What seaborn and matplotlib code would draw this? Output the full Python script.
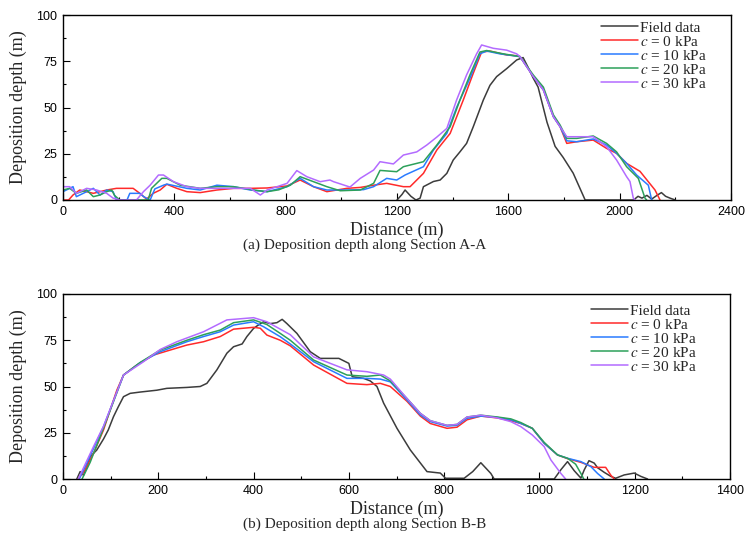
import numpy as np
import pandas as pd
import matplotlib
matplotlib.use("Agg")
import matplotlib.pyplot as plt
from matplotlib.ticker import MultipleLocator
import seaborn as sns

# ---------------- data: Section A-A ----------------
field_a_x = [1200, 1218, 1229, 1250, 1268, 1283, 1295, 1331, 1355, 1379, 1402, 1426, 1450, 1474,
             1510, 1534, 1558, 1594, 1630, 1653, 1670, 1689, 1707, 1739, 1768, 1797, 1833, 1876,
             1900, 2050, 2066, 2080, 2098, 2115, 2134, 2150, 2165, 2181, 2200]
field_a_y = [0, 3, 5.4, 2, 0, 1, 7.2, 10, 10.8, 14.4, 21.6, 26, 30.6, 39.6,
             54, 62, 66.7, 71, 75.7, 77, 72, 66, 61, 42, 29, 23, 14.5, 0,
             0, 0, 2, 1, 2.5, 0.5, 2.5, 4, 2, 1, 0]

c0_a_x = [0, 20, 36, 60, 109, 157, 192, 252, 276, 300, 324, 349, 373, 409, 445, 493, 553, 613,
          673, 733, 805, 852, 900, 948, 1020, 1068, 1116, 1163, 1223, 1247, 1295, 1343, 1391,
          1438, 1474, 1504, 1534, 1594, 1630, 1642, 1690, 1726, 1762, 1786, 1810, 1846, 1905,
          1953, 1989, 2025, 2073, 2097, 2127, 2145]
c0_a_y = [0, 0, 2.7, 5.4, 3.6, 5.4, 6.3, 6.3, 3.6, 0.5, 3.6, 5.4, 8.5, 6.3, 4.5, 4, 5.4, 6.3,
          6.3, 6.5, 7.6, 10.8, 7.2, 4.5, 6.3, 6.8, 8, 9, 7.2, 7.2, 14.4, 27, 36,
          54, 68.5, 80, 80.5, 78.4, 78, 77.5, 66.7, 59.5, 45, 39.6, 30.6, 31.5, 32.4,
          27.9, 25.2, 19.8, 15.5, 11, 5.4, 0]

c10_a_x = [0, 36, 48, 85, 109, 133, 157, 180, 192, 230, 240, 276, 290, 313, 330, 361, 373, 445,
           493, 553, 613, 673, 733, 805, 852, 900, 948, 1020, 1080, 1116, 1163, 1199, 1229, 1295,
           1331, 1379, 1414, 1462, 1498, 1522, 1570, 1642, 1690, 1726, 1762, 1786, 1810, 1846,
           1905, 1953, 1989, 2025, 2061, 2103, 2115]
c10_a_y = [4.5, 7.2, 1.8, 4.5, 6.3, 2.7, 5.4, 4.5, 0, 0, 3.6, 3.6, 1.8, 0, 6, 8, 8.6, 6.3,
           5.4, 8, 7.2, 5.4, 4.5, 7.2, 11.7, 7.2, 5.4, 5.4, 5.6, 7.2, 11.7, 10.8, 13.5, 18,
           27, 36, 50, 65.8, 79, 80.5, 79, 77.5, 66.7, 59.5, 45, 39.6, 32, 31.5,
           33, 29.7, 25.2, 19.8, 13.5, 8, 0]

c20_a_x = [0, 24, 48, 85, 109, 133, 157, 175, 185, 204, 306, 318, 355, 373, 421, 493, 553, 613,
           685, 733, 775, 817, 852, 900, 948, 996, 1068, 1116, 1139, 1199, 1223, 1295, 1343,
           1391, 1426, 1462, 1498, 1522, 1582, 1642, 1690, 1726, 1762, 1786, 1810, 1846, 1905,
           1953, 1989, 2025, 2067, 2091, 2097]
c20_a_y = [5.4, 6.3, 3.6, 5.4, 1.8, 2.7, 4.5, 5.4, 2.5, 0, 0, 6.3, 11.7, 11.7, 8, 6.3, 7.2, 7.2,
           5.4, 4.5, 5.5, 8, 12.6, 9.9, 7.2, 5, 5.4, 9, 16, 15.3, 18, 20.7, 29.7,
           39.6, 54, 67.6, 80, 80.8, 79, 77.5, 67.5, 61, 46, 40.5, 33.3, 33.3, 34.6,
           30.6, 26, 18, 11.7, 1, 0]

c30_a_x = [0, 24, 48, 85, 121, 157, 180, 204, 264, 289, 313, 343, 361, 397, 445, 493, 613, 673,
           709, 733, 805, 840, 876, 924, 959, 972, 1031, 1068, 1116, 1139, 1187, 1223, 1271,
           1307, 1343, 1379, 1414, 1450, 1486, 1504, 1546, 1594, 1630, 1642, 1690, 1726, 1762,
           1786, 1810, 1846, 1905, 1953, 1989, 2025, 2037, 2049, 2055]
c30_a_y = [7.2, 7.2, 3.6, 6.3, 5.4, 3.6, 1, 0, 0, 4.5, 8, 13.5, 13.5, 9.9, 7.2, 6.3, 6.3, 6.3,
           2.7, 5.4, 9, 15.9, 12.6, 9.9, 10.8, 9.9, 7, 11.7, 16.2, 20.7, 19.5, 24.3, 26,
           29.7, 34, 38.7, 54, 67.6, 79, 83.8, 82, 81, 79, 77.5, 66.7, 59.5, 45,
           39.6, 34.2, 34.2, 34.2, 28.8, 21.6, 12.6, 10, 1, 0]

# ---------------- data: Section B-B ----------------
field_b_x = [29, 36, 43, 50, 57, 71, 85, 95, 106, 116, 127, 141, 162, 197, 218, 260, 288, 302,
             323, 344, 358, 376, 386, 400, 407, 421, 435, 449, 460, 470, 491, 519, 540, 579, 600,
             607, 631, 645, 659, 673, 701, 729, 764, 792, 803, 842, 860, 877, 898, 905, 1031,
             1045, 1059, 1073, 1087, 1094, 1104, 1115, 1122, 1136, 1150, 1160, 1178, 1199, 1213, 1227]
field_b_y = [0, 4, 2, 6.7, 12, 15.7, 21.6, 26.5, 33.7, 39, 44.5, 46.3, 47, 48, 49, 49.5, 50, 51.7,
             59, 68, 71.5, 73, 77, 81.4, 82.7, 85, 84, 84.5, 86.3, 84, 78.7, 68.8, 65.2, 65.2, 62.5,
             55.3, 54.4, 53, 50, 41, 27.4, 15.7, 4, 3.2, 0.4, 0.4, 4, 8.8, 3, 0, 0,
             5, 9.4, 4.5, 0.5, 4.9, 9.9, 8.6, 6.1, 3.6, 1.4, 0.4, 2.2, 3.2, 1.4, 0]

c0_b_x = [32, 46, 64, 85, 99, 113, 127, 155, 190, 225, 260, 295, 330, 358, 400, 414, 428, 456,
          477, 526, 596, 638, 666, 687, 722, 750, 771, 806, 827, 848, 877, 912, 940, 961, 985,
          1010, 1038, 1059, 1087, 1115, 1139, 1150, 1157]
c0_b_y = [0, 4.9, 13.9, 26.5, 37.3, 48, 56.2, 61.6, 67, 69.7, 72.4, 74.2, 77, 81, 82, 81.5, 77.8, 75,
          72, 61.6, 51.7, 51, 51.7, 50, 42, 34, 30, 27.4, 28, 32, 34, 33, 31.5, 30, 27.4,
          19.3, 13, 11, 9, 6.3, 6.3, 2, 0]

c10_b_x = [34, 50, 85, 127, 162, 204, 260, 295, 330, 358, 400, 421, 456, 477, 526, 596, 638, 666,
           687, 722, 750, 771, 806, 827, 848, 877, 912, 940, 961, 985, 1010, 1038, 1059, 1087,
           1108, 1122, 1136]
c10_b_y = [0, 8.5, 28.3, 56.2, 62.9, 68.8, 74.2, 77, 79.6, 83.2, 85, 82.3, 76.9, 73, 63.4, 54.4, 54.4, 54,
           52.5, 42.7, 34.6, 31, 28.6, 29, 32.8, 34, 33.3, 32, 30, 27.4, 19.3, 13, 11.2, 9.4,
           6.7, 3, 0]

c20_b_x = [40, 57, 85, 127, 162, 204, 260, 295, 330, 358, 400, 428, 456, 477, 526, 596, 638, 666,
           687, 722, 750, 771, 806, 827, 848, 877, 912, 940, 961, 985, 1010, 1038, 1059, 1076,
           1087, 1093]
c20_b_y = [0, 9, 27.5, 56.2, 63, 69.7, 75, 78, 80.5, 84.5, 86, 83.5, 78.7, 75, 64.3, 56.2, 55.5, 56.2,
           53, 43.5, 35.5, 31.5, 29, 29.5, 33.5, 34.5, 33.5, 32.5, 30.5, 27.4, 19.8, 13, 11.2, 8,
           3, 0]

c30_b_x = [32, 64, 85, 127, 169, 204, 239, 295, 344, 400, 428, 456, 477, 526, 596, 638, 673, 687,
           722, 750, 771, 806, 827, 848, 877, 912, 940, 961, 985, 1010, 1024, 1045, 1055]
c30_b_y = [0, 17.5, 28.5, 56.2, 63.4, 70, 74.2, 79.6, 86, 87.2, 85, 81, 78, 66, 59, 58, 56.2, 54,
           43.5, 35.5, 31.5, 29, 29.5, 33.5, 34.5, 33, 31, 28.3, 23.8, 17.5, 10.3, 3, 0]

series_labels = ["Field data", r"$c$ = 0 kPa", r"$c$ = 10 kPa", r"$c$ = 20 kPa", r"$c$ = 30 kPa"]
series_colors = ["#3c3c3c", "#ff2a2a", "#2a7bff", "#2ca05a", "#b36bff"]

captions = ["(a) Deposition depth along Section A-A", "(b) Deposition depth along Section B-B"]
xlabel = "Distance (m)"
ylabel = "Deposition depth (m)"

# ---------------- styling ----------------
sns.set_style("ticks")
plt.rcParams["font.family"] = ["Liberation Sans", "DejaVu Sans"]
plt.rcParams["mathtext.fontset"] = "stix"
SERIF = ["Liberation Serif", "DejaVu Serif"]

W, H = 745, 554
fig = plt.figure(figsize=(W / 100, H / 100), dpi=100)


def box(l, t, r, b):
    return [l / W, 1 - b / H, (r - l) / W, (b - t) / H]


panels = [
    dict(rect=box(63, 15, 731, 200), xmax=2400, xmaj=400, xmin=200,
         data=[(field_a_x, field_a_y), (c0_a_x, c0_a_y), (c10_a_x, c10_a_y),
               (c20_a_x, c20_a_y), (c30_a_x, c30_a_y)],
         leg=(601, 21), cap_y=245, cap=captions[0]),
    dict(rect=box(63, 294, 730, 479), xmax=1400, xmaj=200, xmin=100,
         data=[(field_b_x, field_b_y), (c0_b_x, c0_b_y), (c10_b_x, c10_b_y),
               (c20_b_x, c20_b_y), (c30_b_x, c30_b_y)],
         leg=(591, 304), cap_y=524, cap=captions[1]),
]

for p in panels:
    ax = fig.add_axes(p["rect"])
    for (xs, ys), lab, col in zip(p["data"], series_labels, series_colors):
        df = pd.DataFrame({"x": xs, "y": ys})
        sns.lineplot(data=df, x="x", y="y", ax=ax, color=col, lw=1.1,
                     label=lab, estimator=None, sort=False)
    ax.set_xlim(0, p["xmax"])
    ax.set_ylim(0, 100)
    ax.xaxis.set_major_locator(MultipleLocator(p["xmaj"]))
    ax.xaxis.set_minor_locator(MultipleLocator(p["xmin"]))
    ax.yaxis.set_major_locator(MultipleLocator(25))
    ax.yaxis.set_minor_locator(MultipleLocator(12.5))
    ax.tick_params(which="both", direction="in", top=False, right=False,
                   labelsize=9, width=0.8, colors="black")
    ax.tick_params(which="major", length=5, pad=4)
    ax.tick_params(which="minor", length=2.5)
    for s in ax.spines.values():
        s.set_visible(True)
        s.set_linewidth(1.0)
        s.set_color("black")
    ax.set_xlabel(xlabel, family=SERIF, fontsize=13)
    ax.set_ylabel(ylabel, family=SERIF, fontsize=13)
    ax.xaxis.set_label_coords(0.5, -0.118)
    ax.yaxis.set_label_coords(-0.054, 0.5)
    lx, ly = p["leg"]
    leg = ax.legend(loc="upper left", bbox_to_anchor=(lx / W, 1 - ly / H),
                    bbox_transform=fig.transFigure, frameon=False,
                    prop={"family": SERIF, "size": 11}, borderpad=0,
                    borderaxespad=0, handlelength=2.4, handletextpad=0.15,
                    labelspacing=0.0)
    fig.text(365 / W, 1 - p["cap_y"] / H, p["cap"], family=SERIF, fontsize=11,
             ha="center", va="center")

fig.savefig("out.png", dpi=100)
